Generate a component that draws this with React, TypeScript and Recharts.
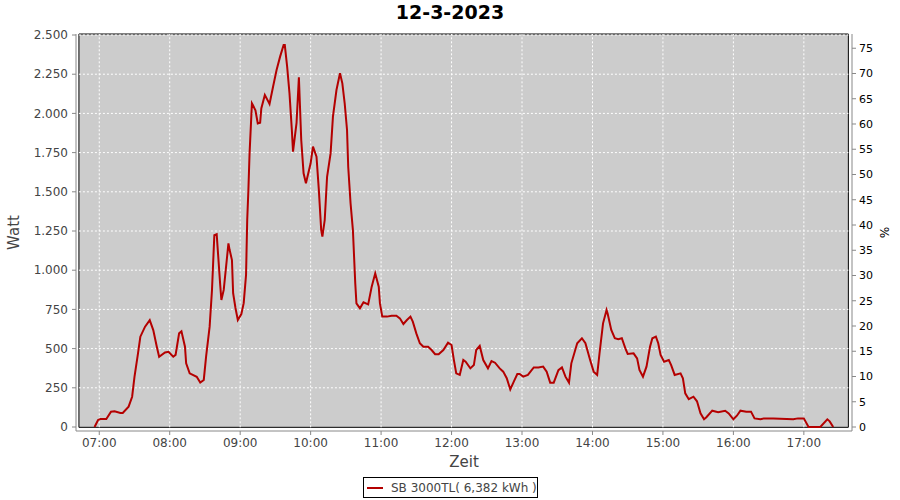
import {
  LineChart,
  Line,
  XAxis,
  YAxis,
  ReferenceArea,
  ReferenceLine,
} from "recharts";

// readings of the day, time of day and watt
const times = [
  "06:56", "06:59", "07:01", "07:06", "07:10", "07:13", "07:18", "07:20", "07:25", "07:28",
  "07:30", "07:33", "07:35", "07:39", "07:43", "07:46", "07:49", "07:51", "07:56", "07:59",
  "08:03", "08:05", "08:08", "08:10", "08:13", "08:14", "08:17", "08:23", "08:26", "08:29",
  "08:31", "08:34", "08:36", "08:38", "08:40", "08:43", "08:44", "08:46", "08:50", "08:51",
  "08:53", "08:54", "08:56", "08:58", "09:01", "09:03", "09:05", "09:06", "09:07", "09:08",
  "09:10", "09:11", "09:13", "09:15", "09:17", "09:18", "09:21", "09:24", "09:25", "09:28",
  "09:31", "09:34", "09:37", "09:38", "09:40", "09:42", "09:44", "09:45", "09:48", "09:50",
  "09:52", "09:54", "09:56", "10:00", "10:02", "10:05", "10:07", "10:09", "10:10", "10:12",
  "10:14", "10:17", "10:19", "10:22", "10:25", "10:27", "10:29", "10:31", "10:32", "10:34",
  "10:36", "10:37", "10:38", "10:39", "10:42", "10:45", "10:49", "10:52", "10:55", "10:58",
  "10:59", "11:01", "11:05", "11:09", "11:13", "11:16", "11:19", "11:22", "11:25", "11:27",
  "11:30", "11:33", "11:36", "11:40", "11:43", "11:46", "11:49", "11:53", "11:57", "12:00",
  "12:02", "12:04", "12:07", "12:10", "12:12", "12:16", "12:19", "12:21", "12:24", "12:27",
  "12:31", "12:34", "12:37", "12:41", "12:44", "12:47", "12:50", "12:53", "12:56", "12:58",
  "13:01", "13:05", "13:10", "13:14", "13:18", "13:21", "13:24", "13:27", "13:31", "13:34",
  "13:37", "13:40", "13:42", "13:47", "13:51", "13:54", "13:58", "14:01", "14:04", "14:06",
  "14:09", "14:12", "14:13", "14:16", "14:19", "14:22", "14:25", "14:28", "14:30", "14:35",
  "14:38", "14:40", "14:43", "14:46", "14:49", "14:51", "14:54", "14:56", "14:58", "15:01",
  "15:05", "15:07", "15:10", "15:15", "15:17", "15:19", "15:22", "15:26", "15:29", "15:32",
  "15:35", "15:37", "15:42", "15:47", "15:53", "15:56", "16:00", "16:03", "16:06", "16:11",
  "16:15", "16:18", "16:23", "16:26", "16:34", "16:51", "16:55", "17:00", "17:04", "17:14",
  "17:20", "17:22", "17:25",
];

const watts = [
  0, 45, 51, 51, 98, 100, 90, 90, 130, 193,
  320, 470, 576, 640, 682, 618, 512, 448, 475, 480,
  448, 460, 597, 610, 512, 406, 342, 320, 283, 300,
  450, 640, 874, 1224, 1230, 906, 810, 874, 1171, 1130,
  1065, 853, 759, 682, 720, 790, 970, 1320, 1511, 1745,
  2064, 2050, 2020, 1936, 1940, 2032, 2117, 2075, 2060, 2170,
  2277, 2362, 2436, 2436, 2298, 2128, 1894, 1756, 1939, 2230,
  1830, 1618, 1554, 1682, 1788, 1724, 1511, 1256, 1214, 1320,
  1596, 1745, 1979, 2149, 2256, 2192, 2064, 1894, 1660, 1427,
  1256, 1086, 916, 789, 757, 795, 782, 895, 980, 895,
  790, 704, 704, 710, 710, 693, 657, 682, 704, 672,
  597, 534, 512, 512, 491, 464, 464, 491, 538, 523,
  427, 342, 332, 427, 416, 374, 395, 491, 517, 427,
  374, 421, 410, 374, 353, 311, 240, 289, 338, 338,
  321, 332, 380, 380, 385, 353, 283, 283, 363, 380,
  321, 283, 406, 534, 566, 534, 427, 353, 332, 470,
  661, 746, 720, 619, 566, 560, 566, 502, 466, 470,
  438, 364, 321, 385, 512, 566, 576, 534, 459, 416,
  427, 395, 332, 342, 311, 215, 177, 193, 164, 87,
  49, 62, 104, 95, 104, 87, 49, 72, 104, 98,
  98, 55, 49, 55, 55, 49, 55, 55, 0, 0,
  49, 36, 0,
];

const hourTicks = ["07:00", "08:00", "09:00", "10:00", "11:00", "12:00", "13:00", "14:00", "15:00", "16:00", "17:00"];
const wattTicks = [0, 250, 500, 750, 1000, 1250, 1500, 1750, 2000, 2250, 2500];
const pctTicks = [0, 5, 10, 15, 20, 25, 30, 35, 40, 45, 50, 55, 60, 65, 70, 75];

const title = "12-3-2023";
const seriesName = "SB 3000TL( 6,382 kWh )";

const toMin = (t: string) => {
  const [h, m] = t.split(":").map(Number);
  return h * 60 + m;
};
const fmtTime = (v: number) => {
  const h = Math.floor(v / 60);
  const m = v % 60;
  return `${String(h).padStart(2, "0")}:${String(m).padStart(2, "0")}`;
};
const fmtWatt = (v: number) =>
  v >= 1000 ? `${Math.floor(v / 1000)}.${String(v % 1000).padStart(3, "0")}` : `${v}`;

const data = times.map((t, i) => ({ t: toMin(t), w: watts[i] }));
const xTicks = hourTicks.map(toMin);

const FONT = "'DejaVu Sans', sans-serif";
const LINE = "#b40000";

export default function App() {
  return (
    <div style={{ position: "absolute", left: 0, top: 0, width: 900, height: 500, background: "#fff", fontFamily: FONT }}>
      <div
        style={{
          position: "absolute",
          top: 0,
          left: 0,
          width: 900,
          textAlign: "center",
          fontWeight: "bold",
          fontSize: 19,
          lineHeight: "25px",
          color: "#000",
        }}
      >
        {title}
      </div>
      <LineChart
        width={900}
        height={500}
        data={data}
        margin={{ top: 34, right: 0, bottom: 28, left: 0 }}
      >
        <XAxis
          dataKey="t"
          type="number"
          domain={[400.2, 1061]}
          allowDataOverflow
          ticks={xTicks}
          tickFormatter={fmtTime}
          height={41}
          tickSize={4}
          tickMargin={3}
          stroke="#888"
          tick={{ fill: "#444", fontSize: 12, fontFamily: FONT }}
          label={{ value: "Zeit", position: "insideBottom", offset: 5, fill: "#444", fontSize: 15, fontFamily: FONT }}
        />
        <YAxis
          yAxisId="w"
          domain={[-25.5, 2506.4]}
          allowDataOverflow
          ticks={wattTicks}
          tickFormatter={fmtWatt}
          width={76}
          tickSize={4}
          tickMargin={4}
          stroke="#888"
          tick={{ fill: "#444", fontSize: 12, fontFamily: FONT }}
          label={{ value: "Watt", angle: -90, position: "insideLeft", offset: 14, style: { textAnchor: "middle" }, fill: "#444", fontSize: 15, fontFamily: FONT }}
        />
        <YAxis
          yAxisId="p"
          orientation="right"
          domain={[-0.79, 77.82]}
          allowDataOverflow
          ticks={pctTicks}
          width={48}
          tickSize={4}
          tickMargin={3}
          stroke="#888"
          tick={{ fill: "#000", fontSize: 11, fontFamily: FONT }}
          label={{ value: "%", angle: 90, position: "insideRight", offset: 16, style: { textAnchor: "middle" }, fill: "#000", fontSize: 12, fontFamily: FONT }}
        />
        <ReferenceArea
          yAxisId="w"
          x1={402.7}
          x2={1057.9}
          y1={-2}
          y2={2506.4}
          fill="#cccccc"
          fillOpacity={1}
          stroke="#000"
          strokeWidth={1}
          ifOverflow="visible"
        />
        {wattTicks.slice(1).map((v) => (
          <ReferenceLine
            key={"h" + v}
            yAxisId="w"
            segment={[{ x: 402.7, y: v }, { x: 1057.9, y: v }]}
            stroke="#fff"
            strokeDasharray="2 2"
          />
        ))}
        {xTicks.map((v) => (
          <ReferenceLine
            key={"v" + v}
            yAxisId="w"
            segment={[{ x: v, y: -2 }, { x: v, y: 2506.4 }]}
            stroke="#fff"
            strokeDasharray="2 2"
          />
        ))}
        <Line
          yAxisId="w"
          type="linear"
          dataKey="w"
          name={seriesName}
          stroke={LINE}
          strokeWidth={2}
          dot={false}
          isAnimationActive={false}
        />
      </LineChart>
      <div
        style={{
          position: "absolute",
          left: 363,
          top: 477,
          width: 173,
          height: 19,
          border: "1px solid #000",
          display: "flex",
          alignItems: "center",
          fontSize: 12,
          color: "#444",
          whiteSpace: "nowrap",
        }}
      >
        <svg width={22} height={10} style={{ marginLeft: 2, marginRight: 3 }}>
          <line x1={1} y1={5} x2={17} y2={5} stroke={LINE} strokeWidth={2} />
        </svg>
        {seriesName}
      </div>
    </div>
  );
}
